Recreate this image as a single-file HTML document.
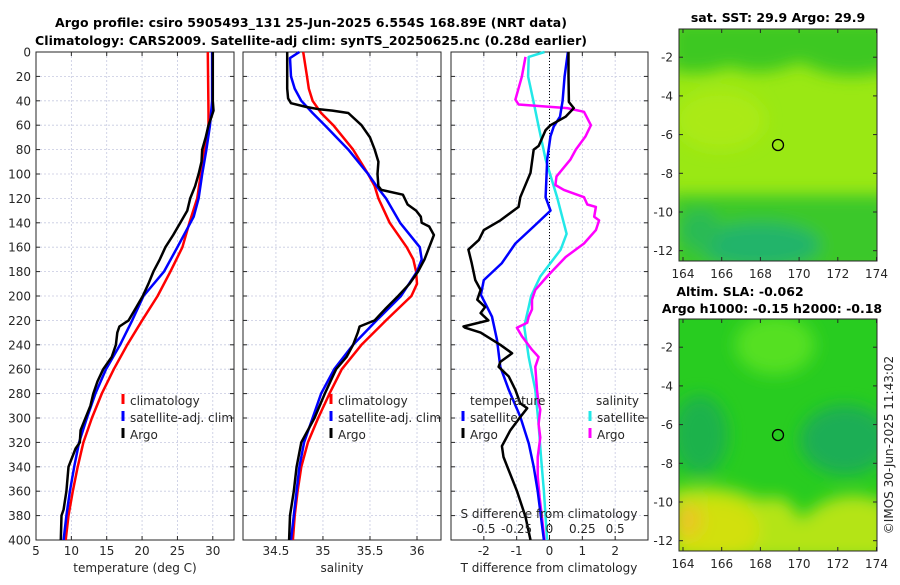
<!DOCTYPE html>
<html><head><meta charset="utf-8">
<style>
html,body{margin:0;padding:0;background:#fff;}
svg text{font-family:"DejaVu Sans","Liberation Sans",sans-serif;fill:#262626;}
.t{font-size:12px;}
.b{font-weight:bold;fill:#000;font-size:12.5px;}
</style></head>
<body>
<svg id="fig" xmlns="http://www.w3.org/2000/svg" width="900" height="580" viewBox="0 0 900 580">
<defs>
<filter id="bl" x="-20%" y="-20%" width="140%" height="140%"><feGaussianBlur stdDeviation="8"/></filter>
<clipPath id="c1"><rect x="679" y="29" width="198" height="232"/></clipPath>
<clipPath id="c2"><rect x="679" y="319" width="198" height="232"/></clipPath>
</defs>
<text class="b" x="311" y="27" text-anchor="middle" textLength="512">Argo profile: csiro 5905493_131 25-Jun-2025 6.554S 168.89E (NRT data)</text>
<text class="b" x="311" y="45" text-anchor="middle" textLength="552">Climatology: CARS2009. Satellite-adj clim: synTS_20250625.nc (0.28d earlier)</text>

<g>
<g clip-path="url(#c1)">
<rect x="679" y="29" width="198" height="232" fill="#9ae814"/>
<g filter="url(#bl)">
<path d="M670 20 H890 V70 Q840 85 800 62 Q760 80 730 66 Q700 78 670 70 Z" fill="#3cc822"/>
<ellipse cx="720" cy="120" rx="45" ry="30" fill="#aaea16"/>
<rect x="670" y="195" width="220" height="80" fill="#3ac82c"/>
<ellipse cx="760" cy="245" rx="60" ry="22" fill="#20b46a"/>
<ellipse cx="700" cy="230" rx="20" ry="20" fill="#2cba55"/>
</g>
</g>
<rect x="679" y="29" width="198" height="232" fill="none" stroke="#262626" stroke-width="1"/>
<circle cx="778" cy="145" r="5.5" fill="none" stroke="#000" stroke-width="1.3"/>
<text class="b" x="778" y="22" text-anchor="middle">sat. SST: 29.9 Argo: 29.9</text>
</g>
<g>
<g clip-path="url(#c2)">
<rect x="679" y="319" width="198" height="232" fill="#28cc20"/>
<g filter="url(#bl)">
<ellipse cx="775" cy="345" rx="40" ry="30" fill="#55e020"/>
<ellipse cx="700" cy="435" rx="28" ry="40" fill="#1bb24c"/>
<ellipse cx="845" cy="440" rx="45" ry="35" fill="#1aae55"/>
<path d="M670 490 Q720 480 760 500 Q790 490 800 520 Q840 480 890 505 V560 H670 Z" fill="#b4e414"/>
<ellipse cx="715" cy="530" rx="45" ry="30" fill="#d2e010"/>
<ellipse cx="688" cy="520" rx="14" ry="18" fill="#e8c820"/>
</g>
</g>
<rect x="679" y="319" width="198" height="232" fill="none" stroke="#262626" stroke-width="1"/>
<circle cx="778" cy="435" r="5.5" fill="none" stroke="#000" stroke-width="1.3"/>
<text class="b" x="740" y="296" text-anchor="middle">Altim. SLA: -0.062</text>
<text class="b" x="772" y="313" text-anchor="middle">Argo h1000: -0.15 h2000: -0.18</text>
</g>
<text class="t" transform="translate(893,445) rotate(-90)" text-anchor="middle">©IMOS 30-Jun-2025 11:43:02</text>
<g id="dyn"></g>
</svg>
<script>
// ---- data ----
const tempDepthClim=[0,50,60,80,100,120,140,160,180,200,220,240,260,280,300,320,340,360,380,400];
const tempClim=[29.3,29.4,29.4,28.8,28.3,27.8,26.7,25.7,24.0,22.2,20.0,17.9,16.0,14.3,12.9,11.7,10.9,10.2,9.6,9.2];
const tempDepthSat=[0,40,60,80,100,120,135,160,180,200,220,240,260,280,300,320,340,360,380,400];
const tempSat=[29.9,29.9,29.6,29.1,28.5,28.0,27.3,25.0,23.1,20.2,18.6,16.9,14.9,13.4,12.2,11.1,10.4,9.8,9.3,8.9];
const tempDepthArgo=[0,40,48,55,60,70,80,90,100,110,120,130,140,150,160,170,180,190,200,210,220,225,230,240,250,260,270,280,290,300,310,320,325,340,360,375,380,400];
const tempArgo=[30.0,30.0,30.1,29.7,29.4,29.0,28.5,28.4,28.0,27.5,26.8,26.4,25.4,24.4,23.3,22.5,21.6,20.9,20.1,19.1,18.1,16.8,16.5,16.3,15.7,14.5,13.7,13.1,12.7,12.0,11.3,11.2,10.6,9.6,9.3,8.9,8.6,8.5];

const salDepthClim=[0,10,20,30,40,50,60,80,100,110,120,140,160,170,180,190,200,220,240,260,280,300,320,340,360,380,400];
const salClim=[34.79,34.81,34.83,34.85,34.89,34.98,35.11,35.32,35.48,35.55,35.59,35.71,35.89,35.96,35.99,36.0,35.94,35.67,35.41,35.2,35.07,34.95,34.84,34.77,34.73,34.7,34.68];
const salDepthSat=[0,5,20,30,40,50,60,80,100,110,120,140,160,170,180,200,220,240,260,280,300,320,340,360,380,400];
const salSat=[34.75,34.65,34.66,34.7,34.77,34.89,35.02,35.27,35.48,35.57,35.67,35.82,36.03,36.05,36.0,35.83,35.57,35.32,35.12,34.98,34.89,34.8,34.75,34.72,34.69,34.66];
const salDepthArgo=[0,30,38,42,45,47,48,50,60,70,80,90,100,110,113,117,125,130,135,140,143,150,160,170,180,190,200,210,220,225,230,240,250,260,280,300,320,340,360,380,400];
const salArgo=[34.62,34.62,34.63,34.66,34.82,34.96,35.1,35.27,35.41,35.5,35.55,35.59,35.58,35.59,35.62,35.85,35.9,35.99,36.04,36.05,36.13,36.18,36.13,36.08,36.01,35.92,35.8,35.67,35.55,35.39,35.37,35.32,35.25,35.14,35.02,34.91,34.77,34.72,34.69,34.65,34.64];

const dDepthTSat=[0,20,40,53,61,69,88,119,130,143,157,173,187,199,209,217,236,258,277,299,321,340,360,400];
const dTSat=[0.56,0.46,0.4,0.32,0.13,0.03,-0.07,-0.12,0.03,-0.48,-1.04,-1.45,-2.0,-2.09,-1.9,-1.75,-1.6,-1.5,-1.24,-0.89,-0.63,-0.48,-0.36,-0.17];
const dDepthTArgo=[0,20,41,46,53,60,64,77,80,99,119,127,138,146,154,162,173,187,195,203,209,214,220,225,226,230,240,247,254,258,266,277,288,292,301,310,318,323,332,343,360,381,400];
const dTArgo=[0.58,0.58,0.59,0.74,0.49,0.03,-0.12,-0.33,-0.48,-0.58,-0.89,-0.94,-1.5,-2.0,-2.15,-2.47,-2.37,-2.26,-2.1,-2.2,-1.96,-2.1,-1.86,-2.62,-2.57,-2.1,-1.5,-1.14,-1.5,-1.55,-1.24,-1.04,-0.89,-0.68,-0.94,-1.19,-1.35,-1.45,-1.4,-1.24,-0.99,-0.73,-0.58];
const dDepthSSat=[0,4,20,39,61,88,119,149,162,184,200,209,225,250,277,305,332,360,400];
const dSSat=[-0.038,-0.158,-0.163,-0.125,-0.083,-0.03,0.058,0.13,0.085,-0.07,-0.14,-0.158,-0.193,-0.158,-0.108,-0.083,-0.065,-0.043,-0.018];
const dDepthSArgo=[4,20,39,43,46,49,60,69,80,88,102,109,113,119,125,127,135,138,146,157,168,184,195,203,211,217,222,226,233,244,250,258,277,288,293,305,316,332,348,365,381,400];
const dSArgo=[-0.183,-0.21,-0.26,-0.235,0.135,0.263,0.315,0.275,0.2,0.16,0.053,0.045,0.11,0.263,0.288,0.353,0.34,0.378,0.353,0.263,0.123,-0.018,-0.108,-0.133,-0.133,-0.158,-0.17,-0.248,-0.21,-0.133,-0.083,-0.108,-0.095,-0.083,-0.07,-0.083,-0.07,-0.09,-0.09,-0.075,-0.058,-0.038];

const depthTicks=[0,20,40,60,80,100,120,140,160,180,200,220,240,260,280,300,320,340,360,380,400];
const tempTicks=[5,10,15,20,25,30];
const salTicks=[34.5,35,35.5,36];
const dTTicks=[-2,-1,0,1,2];
const dSTicks=["-0.5","-0.25","0","0.25","0.5"];
const lonTicks=[164,166,168,170,172,174];
const latTicks=[-2,-4,-6,-8,-10,-12];

// ---- scales ----
const Y0=52,Y1=540;
const yD=d=>Y0+d*(Y1-Y0)/400;
const p1={x0:36,x1:234,min:5,max:33.0};
const p2={x0:243,x1:441,min:34.15,max:36.255};
const p3={x0:451,x1:648,min:-3,max:3};
const sx=(p,v)=>p.x0+(v-p.min)*(p.x1-p.x0)/(p.max-p.min);
const lonX=v=>683+(v-164)*19.35;
const NS="http://www.w3.org/2000/svg";
const g=document.getElementById('dyn');
function mk(tag,attrs,parent){const e=document.createElementNS(NS,tag);for(const k in attrs)e.setAttribute(k,attrs[k]);(parent||g).appendChild(e);return e;}
function txt(x,y,s,anchor,parent){const e=mk('text',{x:x,y:y,'class':'t','text-anchor':anchor||'middle'},parent);e.textContent=s;return e;}

function panel(p,name,xticks,xlabelFn,grid){
  const pg=mk('g',{});
  
  
  depthTicks.forEach(d=>{
    mk('line',{x1:p.x0,x2:p.x1,y1:yD(d),y2:yD(d),stroke:'#c6c9e0','stroke-width':0.8,'stroke-dasharray':'2,2'},pg);
    mk('line',{x1:p.x0,x2:p.x0+4,y1:yD(d),y2:yD(d),stroke:'#262626'},pg);
    mk('line',{x1:p.x1-4,x2:p.x1,y1:yD(d),y2:yD(d),stroke:'#262626'},pg);
  });
  xticks.forEach(v=>{
    const x=sx(p,v);
    if(grid) mk('line',{x1:x,x2:x,y1:Y0,y2:Y1,stroke:'#c6c9e0','stroke-width':0.8,'stroke-dasharray':'2,2'},pg);
    mk('line',{x1:x,x2:x,y1:Y1,y2:Y1-4,stroke:'#262626'},pg);
    mk('line',{x1:x,x2:x,y1:Y0,y2:Y0+4,stroke:'#262626'},pg);
    const t=txt(x,555,xlabelFn(v),'middle',pg);
    
    
  });
  mk('rect',{x:p.x0,y:Y0,width:p.x1-p.x0,height:Y1-Y0,fill:'none',stroke:'#262626','stroke-width':1},pg);
  return pg;
}
function line(p,depths,vals,color,name,scale,parent){
  let d='';
  vals.forEach((v,i)=>{d+=(i?'L':'M')+sx(p,v*(scale||1)).toFixed(1)+' '+yD(depths[i]).toFixed(1);});
  const e=mk('path',{d:d,fill:'none',stroke:color,'stroke-width':2.5,'stroke-linejoin':'round'},parent);
  
  
}
function legItem(x,y,color,label,parent){
  const e=mk('line',{x1:x,x2:x,y1:y-11,y2:y-1,stroke:color,'stroke-width':3},parent);
  
  
  const t=txt(x+7,y,label,'start',parent);
  
  
}

// panel 1
const g1=panel(p1,'temperature-panel',tempTicks,v=>String(v),true);
depthTicks.forEach(d=>{const t=txt(31,yD(d)+4.5,String(d),'end',g1);
  
  });
line(p1,tempDepthClim,tempClim,'#ff0000','temp-climatology-line',1,g1);
line(p1,tempDepthSat,tempSat,'#0000ff','temp-satellite-line',1,g1);
line(p1,tempDepthArgo,tempArgo,'#000000','temp-argo-line',1,g1);
const lg1=mk('g',{},g1);


legItem(123,405,'#ff0000','climatology',lg1);legItem(123,422,'#0000ff','satellite-adj. clim',lg1);legItem(123,439,'#000000','Argo',lg1);
const xl1=txt(135,572,'temperature (deg C)','middle',g1);



// panel 2
const g2=panel(p2,'salinity-panel',salTicks,v=>String(v),true);
line(p2,salDepthClim,salClim,'#ff0000','sal-climatology-line',1,g2);
line(p2,salDepthSat,salSat,'#0000ff','sal-satellite-line',1,g2);
line(p2,salDepthArgo,salArgo,'#000000','sal-argo-line',1,g2);
const lg2=mk('g',{},g2);


legItem(331,405,'#ff0000','climatology',lg2);legItem(331,422,'#0000ff','satellite-adj. clim',lg2);legItem(331,439,'#000000','Argo',lg2);
const xl2=txt(342,572,'salinity','middle',g2);



// panel 3
const g3=panel(p3,'difference-panel',dTTicks,v=>String(v),true);
const z=mk('line',{x1:sx(p3,0),x2:sx(p3,0),y1:Y0,y2:Y1,stroke:'#000','stroke-width':1,'stroke-dasharray':'1,2'},g3);


line(p3,dDepthSSat,dSSat,'#22e8e8','s-diff-satellite-line',4,g3);
line(p3,dDepthSArgo,dSArgo,'#ff00ff','s-diff-argo-line',4,g3);
line(p3,dDepthTSat,dTSat,'#0000ff','t-diff-satellite-line',1,g3);
line(p3,dDepthTArgo,dTArgo,'#000000','t-diff-argo-line',1,g3);
const lg3=mk('g',{},g3);


const lt1=txt(470,405,'temperature','start',lg3);


const lt2=txt(596,405,'salinity','start',lg3);


legItem(463,422,'#0000ff','satellite',lg3);legItem(463,439,'#000000','Argo',lg3);
legItem(590,422,'#22e8e8','satellite',lg3);legItem(590,439,'#ff00ff','Argo',lg3);
const st=txt(549,518,'S difference from climatology','middle',g3);


dSTicks.forEach(s=>{const t=txt(sx(p3,parseFloat(s)*4),533,s,'middle',g3);
  
  });
const tt=txt(549,572,'T difference from climatology','middle',g3);



// map axes
[[29,261,'sst'],[319,551,'sla']].forEach(([top,bot,nm])=>{
  const ag=mk('g',{});
  
  
  const ly=v=>(bot-10.3)+(-12-v)*19.35;
  latTicks.forEach(v=>{
    const y=ly(v);
    mk('line',{x1:679,x2:683,y1:y,y2:y,stroke:'#262626'},ag);
    mk('line',{x1:873,x2:877,y1:y,y2:y,stroke:'#262626'},ag);
    const t=txt(673,y+4.5,String(v),'end',ag);
    
    
  });
  lonTicks.forEach(v=>{
    const x=lonX(v);
    mk('line',{x1:x,x2:x,y1:bot,y2:bot-4,stroke:'#262626'},ag);
    mk('line',{x1:x,x2:x,y1:top,y2:top+4,stroke:'#262626'},ag);
    const t=txt(x,bot+17,String(v),'middle',ag);
    
    
  });
});
</script>
</body></html>
